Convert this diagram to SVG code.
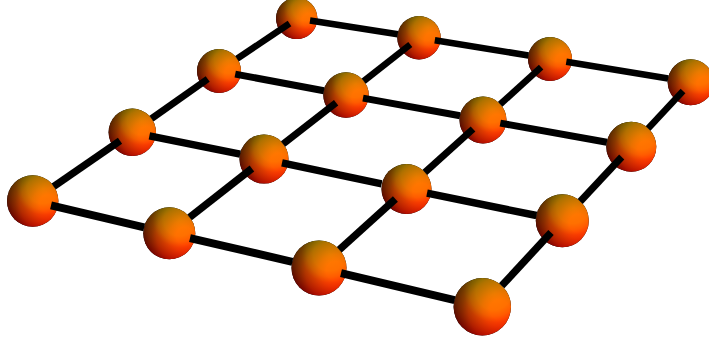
<svg xmlns="http://www.w3.org/2000/svg" xmlns:xlink="http://www.w3.org/1999/xlink" width="709" height="344" viewBox="0 0 709 344">
<style>
.ball{isolation:isolate}
.g{mix-blend-mode:screen}
#connectors line{stroke:#000;stroke-linecap:butt}
.w1{stroke-width:6.6}
.w2{stroke-width:7}
.w3{stroke-width:7.4}
.w4{stroke-width:7.9}
</style>
<defs>
<radialGradient id="red" gradientUnits="userSpaceOnUse" cx="0.6" cy="0.1" r="1.7">
<stop offset="0" stop-color="#ff0000"/><stop offset="0.2" stop-color="#ff0000"/><stop offset="0.35" stop-color="#eb0000"/><stop offset="0.64" stop-color="#b00000"/><stop offset="0.76" stop-color="#880000"/><stop offset="0.94" stop-color="#580000"/><stop offset="1" stop-color="#500000"/>
</radialGradient>
<radialGradient id="green" gradientUnits="userSpaceOnUse" cx="0.4" cy="-0.5" r="1.6">
<stop offset="0" stop-color="#007c00"/><stop offset="0.38" stop-color="#007000"/><stop offset="0.52" stop-color="#005c00"/><stop offset="0.65" stop-color="#003c00"/><stop offset="0.85" stop-color="#002000"/><stop offset="1" stop-color="#000800"/>
</radialGradient>
<g id="ball" class="ball">
<circle r="1" fill="url(#red)"/>
<circle class="g" r="1" fill="url(#green)"/>
</g>
</defs>
<rect width="709" height="344" fill="#fff"/>
<g id="nodes">
<g id="n30"><use href="#ball" transform="translate(296.7 18.3) scale(20.7)"/></g>
<g id="n31"><use href="#ball" transform="translate(419 37.7) scale(21.7)"/></g>
<g id="n32"><use href="#ball" transform="translate(550 59) scale(22)"/></g>
<g id="n33"><use href="#ball" transform="translate(690.7 82.3) scale(23)"/></g>
<g id="n20"><use href="#ball" transform="translate(219 71) scale(22)"/></g>
<g id="n21"><use href="#ball" transform="translate(346 95) scale(22.7)"/></g>
<g id="n22"><use href="#ball" transform="translate(483 120) scale(23.5)"/></g>
<g id="n23"><use href="#ball" transform="translate(631.3 146.7) scale(25)"/></g>
<g id="n10"><use href="#ball" transform="translate(132.3 132.3) scale(23.7)"/></g>
<g id="n11"><use href="#ball" transform="translate(264 159) scale(24.5)"/></g>
<g id="n12"><use href="#ball" transform="translate(406.5 189) scale(25)"/></g>
<g id="n13"><use href="#ball" transform="translate(562.3 220.7) scale(26.5)"/></g>
<g id="n00"><use href="#ball" transform="translate(32.7 201) scale(25.7)"/></g>
<g id="n01"><use href="#ball" transform="translate(169.3 233.3) scale(26)"/></g>
<g id="n02"><use href="#ball" transform="translate(319 268) scale(27.5)"/></g>
<g id="n03"><use href="#ball" transform="translate(482.3 306.7) scale(28.7)"/></g>
</g>
<g id="connectors">
<line class="w1" x1="310" y1="20.5" x2="397.8" y2="34.3"/>
<line class="w1" x1="434.8" y1="40.3" x2="528.5" y2="55.5"/>
<line class="w1" x1="566.3" y1="61.7" x2="668.2" y2="78.6"/>
<line class="w2" x1="235.2" y1="74.1" x2="323.9" y2="90.8"/>
<line class="w2" x1="363" y1="98.1" x2="460.1" y2="115.8"/>
<line class="w2" x1="500.3" y1="123.1" x2="606.9" y2="142.3"/>
<line class="w3" x1="149.4" y1="135.8" x2="240.2" y2="154.2"/>
<line class="w3" x1="282" y1="162.8" x2="381.7" y2="183.9"/>
<line class="w3" x1="427" y1="193.2" x2="536.5" y2="215.5"/>
<line class="w4" x1="51" y1="205.4" x2="144.2" y2="227.4"/>
<line class="w4" x1="190" y1="238.1" x2="292.4" y2="261.8"/>
<line class="w4" x1="341" y1="273.2" x2="454.6" y2="300.1"/>
<line class="w3" x1="53.7" y1="186.5" x2="120" y2="140.8"/>
<line class="w2" x1="151.5" y1="118.7" x2="207.7" y2="79"/>
<line class="w1" x1="237" y1="58.8" x2="289.5" y2="23.5"/>
<line class="w3" x1="189.6" y1="217.4" x2="251.9" y2="168.5"/>
<line class="w2" x1="283.1" y1="144.1" x2="336.1" y2="102.7"/>
<line class="w1" x1="363.7" y1="81.1" x2="410.3" y2="44.5"/>
<line class="w3" x1="339.3" y1="249.7" x2="395.4" y2="199"/>
<line class="w2" x1="424.9" y1="172.4" x2="473" y2="129"/>
<line class="w1" x1="500.2" y1="104.3" x2="541.1" y2="67.1"/>
<line class="w3" x1="501.7" y1="285.8" x2="551" y2="232.5"/>
<line class="w2" x1="580.2" y1="201.5" x2="621.7" y2="157"/>
<line class="w1" x1="648.1" y1="128.5" x2="683" y2="91"/>
</g>
</svg>
